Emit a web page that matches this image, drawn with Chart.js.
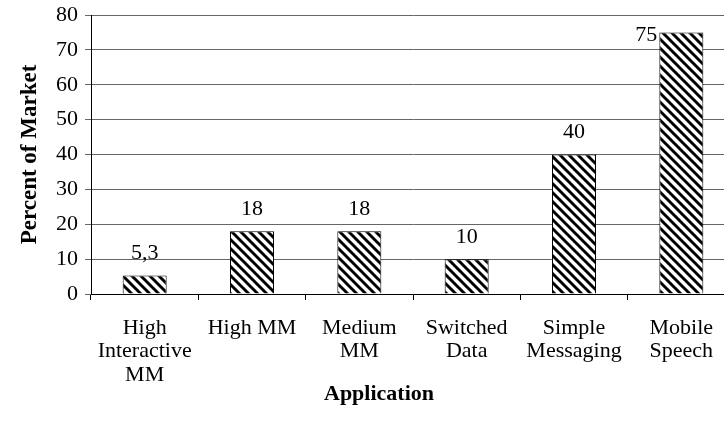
<!DOCTYPE html>
<html>
<head>
<meta charset="utf-8">
<script src="https://cdn.jsdelivr.net/npm/chart.js@4.4.1/dist/chart.umd.min.js"></script>
<style>
  html, body { margin: 0; padding: 0; background: #fff; overflow: hidden; }
  #wrap { width: 740px; height: 434px; }
</style>
</head>
<body>
<div id="wrap"><canvas id="c" width="740" height="434"></canvas></div>
<script>
const categories = [
  ["High", "Interactive", "MM"],
  ["High MM"],
  ["Medium", "MM"],
  ["Switched", "Data"],
  ["Simple", "Messaging"],
  ["Mobile", "Speech"]
];
const values = [5.3, 18, 18, 10, 40, 75];
const valueLabels = ["5,3", "18", "18", "10", "40", "75"];
const yTicks = [0, 10, 20, 30, 40, 50, 60, 70, 80];
const yTitle = "Percent of Market";
const xTitle = "Application";

const FONT = "'Liberation Serif', 'Times New Roman', serif";
const FS = 22;

function hatch() {
  const s = 9;
  const p = document.createElement('canvas');
  p.width = s; p.height = s;
  const g = p.getContext('2d');
  g.fillStyle = '#fff';
  g.fillRect(0, 0, s, s);
  g.strokeStyle = '#000';
  g.lineWidth = 2.9;
  g.beginPath();
  g.moveTo(-s, 0); g.lineTo(s * 2, s * 3);
  g.moveTo(0, -s); g.lineTo(s * 2, s);
  g.moveTo(-s, -s); g.lineTo(s * 2, s * 2);
  g.moveTo(-2 * s, -s); g.lineTo(s, s * 2);
  g.stroke();
  return g.createPattern(p, 'repeat');
}

const labelPlugin = {
  id: 'valueLabels',
  afterDatasetsDraw(chart) {
    const ctx = chart.ctx;
    const meta = chart.getDatasetMeta(0);
    const area = chart.chartArea;
    ctx.save();
    ctx.font = FS + 'px ' + FONT;
    ctx.fillStyle = '#000';
    meta.data.forEach((bar, i) => {
      const txt = valueLabels[i];
      let y = bar.y - 22;
      if (y - 10 < area.top + 4) {
        ctx.textAlign = 'right';
        ctx.textBaseline = 'middle';
        ctx.fillText(txt, bar.x - bar.width / 2 - 2, bar.y + 3);
      } else {
        ctx.textAlign = 'center';
        ctx.textBaseline = 'middle';
        ctx.fillText(txt, bar.x, y);
      }
    });
    ctx.restore();
  }
};

const xTitlePlugin = {
  id: 'xTitle',
  afterDraw(chart) {
    const ctx = chart.ctx;
    ctx.save();
    ctx.font = 'bold ' + FS + 'px ' + FONT;
    ctx.fillStyle = '#000';
    ctx.textAlign = 'center';
    ctx.textBaseline = 'middle';
    ctx.fillText(xTitle, 379, 394);
    ctx.restore();
  }
};

new Chart(document.getElementById('c'), {
  type: 'bar',
  data: {
    labels: categories,
    datasets: [{
      data: values,
      backgroundColor: hatch(),
      borderColor: '#000',
      borderWidth: 1,
      barPercentage: 0.41,
      categoryPercentage: 1.0
    }]
  },
  options: {
    responsive: false,
    animation: false,
    devicePixelRatio: 1,
    layout: { padding: { top: 0, right: 5, left: 0, bottom: 0 } },
    plugins: { legend: { display: false }, tooltip: { enabled: false } },
    scales: {
      x: {
        offset: true,
        grid: {
          offset: true,
          drawOnChartArea: false,
          drawTicks: true,
          tickLength: 6,
          color: '#000'
        },
        border: { color: '#000', width: 1 },
        ticks: {
          color: '#000',
          font: { family: FONT, size: FS, lineHeight: 1.05 },
          padding: 17,
          maxRotation: 0,
          minRotation: 0,
          autoSkip: false
        },
        afterFit(scale) { scale.height = 140; }
      },
      y: {
        min: 0,
        max: 80,
        afterBuildTicks(scale) { scale.ticks = yTicks.map(v => ({ value: v })); },
        grid: {
          color: '#666',
          lineWidth: 1,
          drawTicks: true,
          tickLength: 6
        },
        border: { color: '#000', width: 1 },
        ticks: {
          color: '#000',
          font: { family: FONT, size: FS },
          padding: 7
        },
        title: {
          display: true,
          text: yTitle,
          color: '#000',
          font: { family: FONT, size: 23, weight: 'bold', lineHeight: 1.2 },
          padding: { top: 16, bottom: 4 }
        },
        afterFit(scale) { scale.width = 91; scale.paddingTop = 15; }
      }
    }
  },
  plugins: [labelPlugin, xTitlePlugin]
});
</script>
</body>
</html>
